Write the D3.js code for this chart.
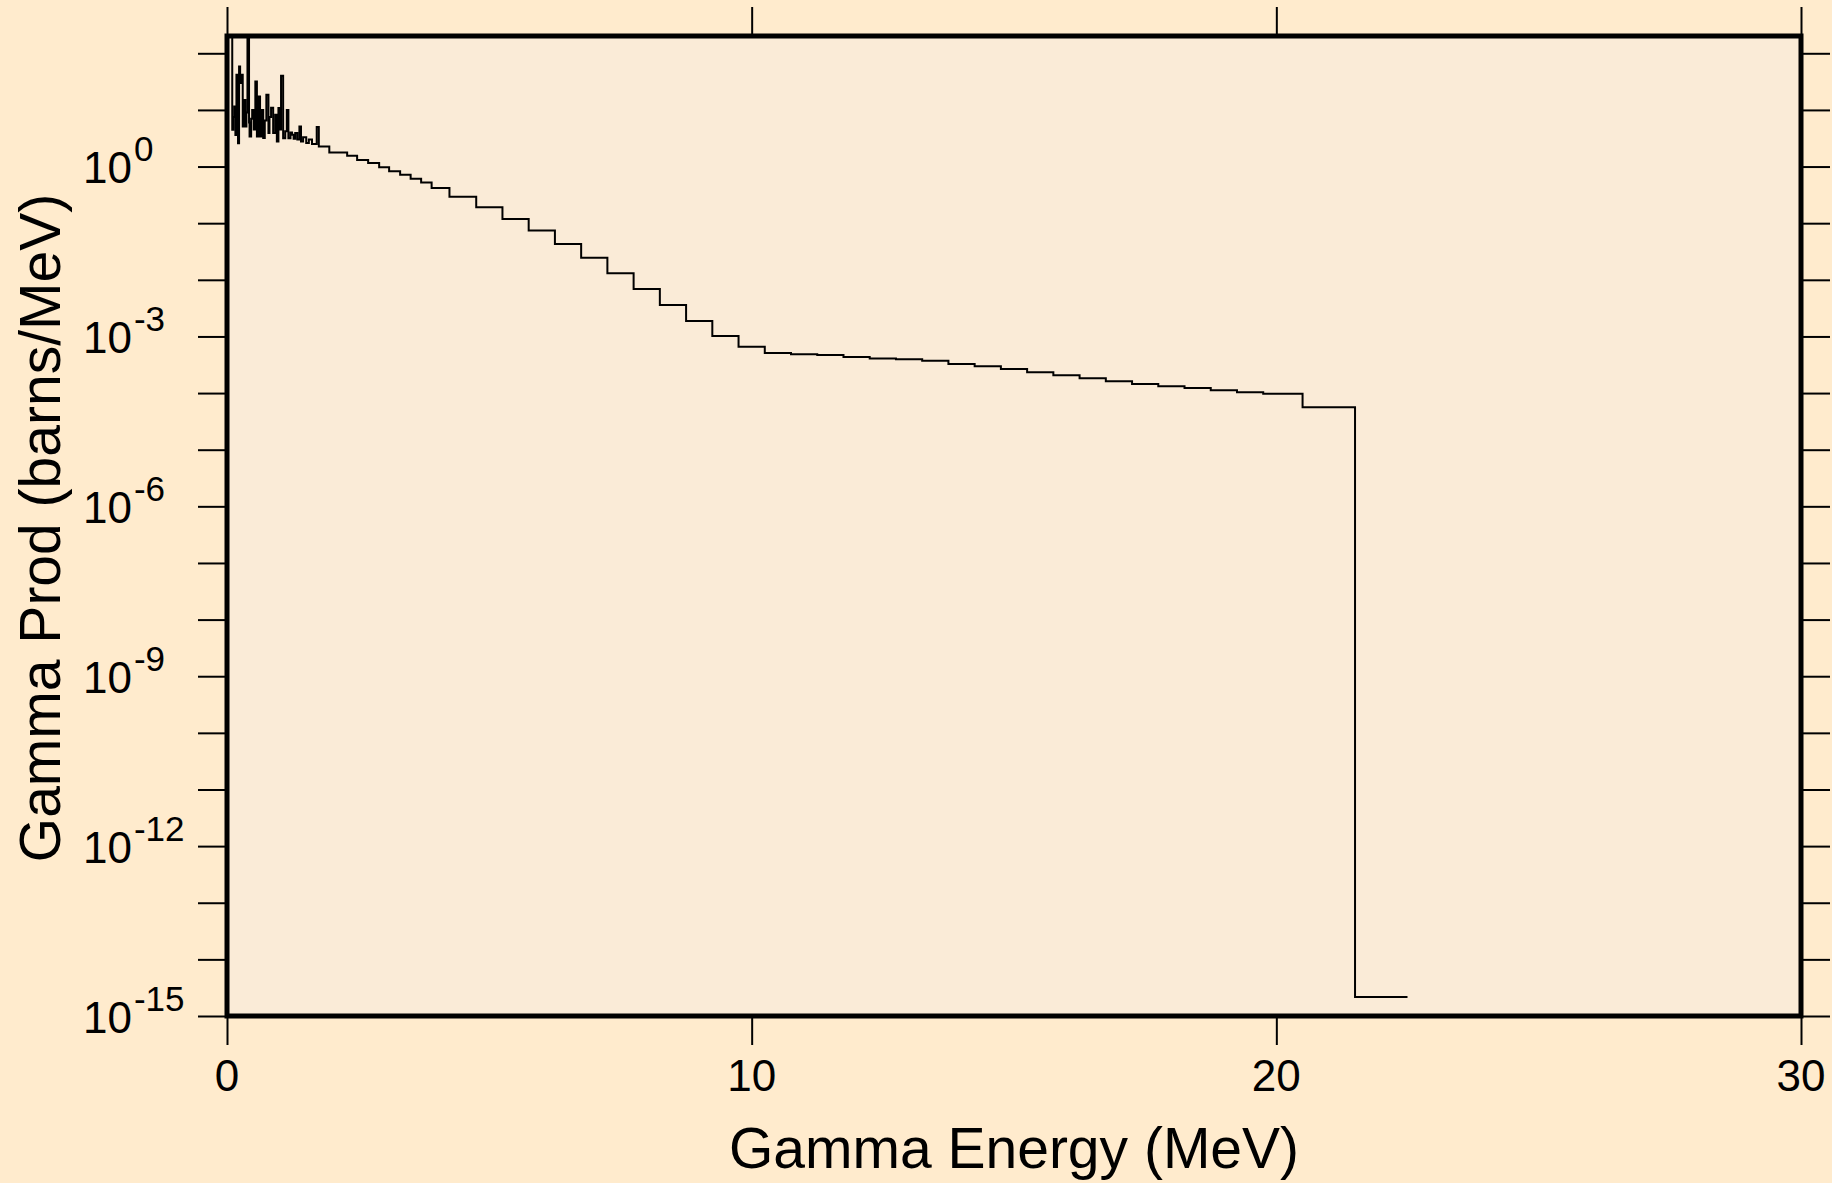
<!DOCTYPE html>
<html>
<head>
<meta charset="utf-8">
<script src="https://cdn.jsdelivr.net/npm/d3@7"></script>
<style>
  html, body { margin: 0; padding: 0; background: #FFEBCD; }
  svg { display: block; }
  text { font-family: "Liberation Sans", Arial, sans-serif; fill: #000; }
</style>
</head>
<body>
<svg id="chart" width="1832" height="1183"></svg>
<script>
// ---- data ----
// left edges of histogram bins (MeV)
const energy = [
  0, 0.10, 0.12, 0.14, 0.16, 0.18, 0.21, 0.23, 0.25, 0.27, 0.30, 0.32, 0.35, 0.37,
  0.39, 0.42, 0.43, 0.46, 0.48, 0.51, 0.54, 0.57, 0.60, 0.63, 0.66, 0.69, 0.72,
  0.75, 0.79, 0.81, 0.84, 0.88, 0.92, 0.95, 0.98, 1.01, 1.03, 1.07, 1.11,
  1.14, 1.17, 1.21, 1.24, 1.27, 1.30, 1.34, 1.38, 1.41, 1.45, 1.51, 1.56, 1.62,
  1.71, 1.75, 1.95,
  2.29, 2.48, 2.69, 2.90, 3.09, 3.30, 3.50, 3.70, 3.90, 4.24, 4.75, 5.25, 5.75,
  6.25, 6.75, 7.25, 7.75, 8.25, 8.75, 9.25, 9.75, 10.25, 10.75, 11.25, 11.75,
  12.25, 12.75, 13.25, 13.75, 14.25, 14.75, 15.25, 15.75, 16.25, 16.75, 17.25,
  17.75, 18.25, 18.75, 19.25, 19.75, 20.5, 21.5
];
const lastEdge = 22.5;
// gamma production (barns/MeV) in each bin
const gammaProd = [
  198, 4.45, 7.5, 11.5, 3.6, 41.7, 2.59, 58.5, 30, 41.7, 5.09, 15, 5.1, 9,
  180, 6, 3.39, 7, 10, 4.5, 31.7, 3.4, 17.3, 3.4, 10, 3.2, 6.5,
  18.5, 3.9, 7.5, 10.9, 3.9, 8.2, 2.77, 10.8, 4.5, 40, 3.17, 4.2,
  10, 3.17, 4.0, 3.63, 3.1, 3.9, 3.0, 5.1, 2.77, 3.3, 2.6, 3.0, 2.5,
  5.0, 2.26, 1.77,
  1.55, 1.31, 1.15, 0.976, 0.829, 0.713, 0.606, 0.521, 0.420, 0.292, 0.192, 0.119, 0.0740,
  0.0431, 0.0244, 0.0131, 0.00691, 0.00360, 0.00188, 0.00102, 6.6e-4, 5.1e-4, 4.85e-4, 4.71e-4, 4.35e-4,
  4.06e-4, 3.96e-4, 3.74e-4, 3.27e-4, 2.97e-4, 2.67e-4, 2.33e-4, 2.06e-4, 1.82e-4, 1.61e-4, 1.45e-4,
  1.32e-4, 1.23e-4, 1.12e-4, 1.03e-4, 9.75e-5, 5.61e-5, 2.16e-15
];
const xTicks = [0, 10, 20, 30];
const yTickExps = [2, 1, 0, -1, -2, -3, -4, -5, -6, -7, -8, -9, -10, -11, -12, -13, -14, -15];
const yLabelExps = [0, -3, -6, -9, -12, -15];
const xTitle = "Gamma Energy (MeV)";
const yTitle = "Gamma Prod (barns/MeV)";

// ---- layout ----
const plot = { left: 227, right: 1801, top: 36, bottom: 1016 };
const tickLen = 29;

const svg = d3.select("#chart");

const x = d3.scaleLinear().domain([0, 30]).range([plot.left, plot.right]);
const y = d3.scaleLog().domain([1e-15, 202]).range([plot.bottom, plot.top]);

// plot background
svg.append("rect")
  .attr("x", plot.left).attr("y", plot.top)
  .attr("width", plot.right - plot.left).attr("height", plot.bottom - plot.top)
  .attr("fill", "#FAEBD7");

svg.append("clipPath").attr("id", "clip")
  .append("rect")
  .attr("x", plot.left).attr("y", plot.top)
  .attr("width", plot.right - plot.left).attr("height", plot.bottom - plot.top);

// data as step line
const pts = energy.map((e, i) => [e, gammaProd[i]]);
pts.push([lastEdge, gammaProd[gammaProd.length - 1]]);
const line = d3.line()
  .x(d => x(d[0]))
  .y(d => y(d[1]))
  .curve(d3.curveStepAfter);

svg.append("path")
  .datum(pts)
  .attr("clip-path", "url(#clip)")
  .attr("d", line)
  .attr("fill", "none")
  .attr("stroke", "#000")
  .attr("stroke-width", 2)
  .attr("stroke-linejoin", "miter");

// axes (ticks outside)
const yVals = yTickExps.map(e => Math.pow(10, e));
const axisStyle = g => {
  g.select(".domain").remove();
  g.selectAll(".tick line").attr("stroke", "#000").attr("stroke-width", 2);
};

svg.append("g")
  .attr("transform", `translate(${plot.left},0)`)
  .call(d3.axisLeft(y).tickValues(yVals).tickSize(tickLen).tickFormat(""))
  .call(axisStyle);

svg.append("g")
  .attr("transform", `translate(${plot.right},0)`)
  .call(d3.axisRight(y).tickValues(yVals).tickSize(tickLen).tickFormat(""))
  .call(axisStyle);

svg.append("g")
  .attr("transform", `translate(0,${plot.bottom})`)
  .call(d3.axisBottom(x).tickValues(xTicks).tickSize(tickLen).tickFormat(""))
  .call(axisStyle);

svg.append("g")
  .attr("transform", `translate(0,${plot.top})`)
  .call(d3.axisTop(x).tickValues(xTicks).tickSize(tickLen).tickFormat(""))
  .call(axisStyle);

// x tick labels
svg.append("g").selectAll("text")
  .data(xTicks).join("text")
  .attr("x", d => x(d))
  .attr("y", 1091)
  .attr("text-anchor", "middle")
  .attr("font-size", 44)
  .text(d => d);

// y tick labels 10^n
const yl = svg.append("g").selectAll("text")
  .data(yLabelExps).join("text")
  .attr("x", 83)
  .attr("y", d => y(Math.pow(10, d)) + 16.5)
  .attr("font-size", 44);
yl.append("tspan").text("10");
yl.append("tspan")
  .attr("font-size", 35)
  .attr("dx", 2)
  .attr("dy", -21.6)
  .text(d => d);

// frame
svg.append("rect")
  .attr("x", plot.left).attr("y", plot.top)
  .attr("width", plot.right - plot.left).attr("height", plot.bottom - plot.top)
  .attr("fill", "none")
  .attr("stroke", "#000")
  .attr("stroke-width", 5);

// axis titles
svg.append("text")
  .attr("x", (plot.left + plot.right) / 2)
  .attr("y", 1168)
  .attr("text-anchor", "middle")
  .attr("font-size", 57)
  .text(xTitle);

svg.append("text")
  .attr("transform", `translate(60,${(plot.top + plot.bottom) / 2 + 2}) rotate(-90)`)
  .attr("text-anchor", "middle")
  .attr("font-size", 57)
  .text(yTitle);
</script>
</body>
</html>
